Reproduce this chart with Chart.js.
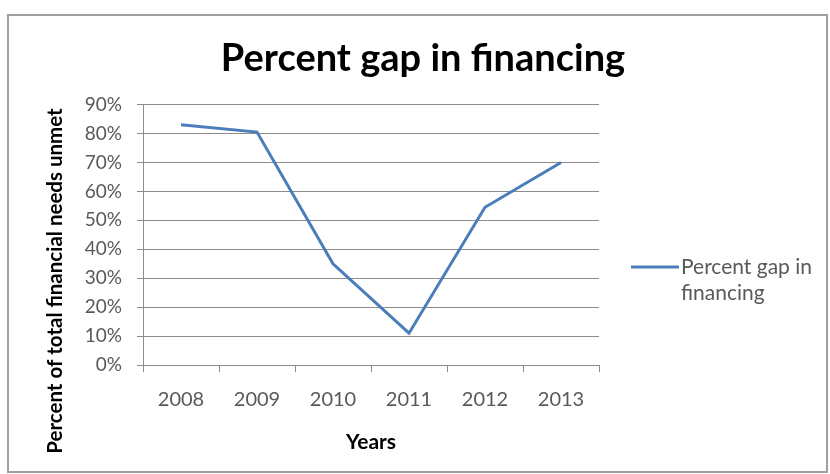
<!DOCTYPE html>
<html>
<head>
<meta charset="utf-8">
<script src="https://cdn.jsdelivr.net/npm/chart.js@4.4.0/dist/chart.umd.min.js"></script>
<style>
	html, body { margin: 0; padding: 0; background: #fff; }
</style>
</head>
<body>
<canvas id="gap-chart" width="830" height="474"></canvas>
<script>
// chart data
const years = ["2008", "2009", "2010", "2011", "2012", "2013"];
const gapPercent = [83, 80.5, 35, 11, 54.5, 70];
const seriesName = "Percent gap in financing";
const legendLines = ["Percent gap in", "financing"];
const chartTitle = "Percent gap in financing";
const yAxisTitle = "Percent of total financial needs unmet";
const xAxisTitle = "Years";

const textGray = "#595959";
const gridGray = "#8c8c8c";
const lineBlue = "#4a7ebb";

// frame, rotated y title and right-side legend
const decorations = {
	id: "decorations",
	beforeDraw(chart) {
		let ctx = chart.ctx;
		ctx.save();
		ctx.fillStyle = "#fff";
		ctx.fillRect(0, 0, chart.width, chart.height);
		ctx.strokeStyle = "#a0a0a0";
		ctx.lineWidth = 2;
		ctx.strokeRect(8, 15, 819, 457);
		ctx.restore();
	},
	afterDraw(chart) {
		let ctx = chart.ctx;
		ctx.save();
		ctx.translate(55, 281);
		ctx.rotate(-Math.PI / 2);
		ctx.font = "bold 20.5px Lato";
		ctx.fillStyle = "#000";
		ctx.textAlign = "center";
		ctx.textBaseline = "middle";
		ctx.fillText(yAxisTitle, 0, 0);
		ctx.restore();

		let ds = chart.data.datasets[0];
		ctx.save();
		ctx.strokeStyle = ds.borderColor;
		ctx.lineWidth = 3;
		ctx.beginPath();
		ctx.moveTo(631, 267);
		ctx.lineTo(679, 267);
		ctx.stroke();
		ctx.font = "21px Lato";
		ctx.fillStyle = textGray;
		ctx.textAlign = "left";
		ctx.textBaseline = "middle";
		legendLines.forEach((line, i) => {
			ctx.fillText(line, 681, 267 + i * 26);
		});
		ctx.restore();
	}
};

let ctx = document.getElementById("gap-chart").getContext("2d");
let chart = new Chart(ctx, {
	type: "line",
	data: {
		labels: years,
		datasets: [{
			label: seriesName,
			data: gapPercent,
			borderColor: lineBlue,
			backgroundColor: lineBlue,
			borderWidth: 3,
			pointRadius: 0,
			tension: 0,
			fill: false
		}]
	},
	options: {
		responsive: false,
		animation: false,
		layout: {
			padding: { left: 16, right: 0, top: 0, bottom: 0 }
		},
		plugins: {
			legend: { display: false },
			tooltip: { enabled: false },
			title: {
				display: true,
				text: chartTitle,
				color: "#000",
				font: { family: "Lato", size: 38, weight: "bold" },
				padding: { top: 36, bottom: 23 }
			}
		},
		scales: {
			x: {
				offset: true,
				afterFit(scale) { scale.height = 109; },
				grid: {
					display: true,
					offset: true,
					drawOnChartArea: false,
					tickLength: 7,
					color: gridGray
				},
				border: { color: gridGray },
				ticks: {
					color: textGray,
					padding: 16,
					font: { family: "Lato", size: 20 }
				},
				title: {
					display: true,
					text: xAxisTitle,
					color: "#000",
					font: { family: "Lato", size: 21, weight: "bold" },
					padding: { top: 0, bottom: 19 }
				}
			},
			y: {
				min: 0,
				max: 90,
				afterFit(scale) { scale.width = 127; },
				grid: {
					color: gridGray,
					tickLength: 6
				},
				border: { color: gridGray },
				ticks: {
					stepSize: 10,
					color: textGray,
					padding: 15,
					font: { family: "Lato", size: 19 },
					callback: (v) => v + "%"
				}
			},
			// empty right axis that keeps room for the legend
			legendRoom: {
				type: "linear",
				position: "right",
				afterFit(scale) { scale.width = 231; },
				grid: { display: false },
				border: { display: false },
				ticks: { display: false }
			}
		}
	},
	plugins: [decorations]
});
</script>
</body>
</html>
